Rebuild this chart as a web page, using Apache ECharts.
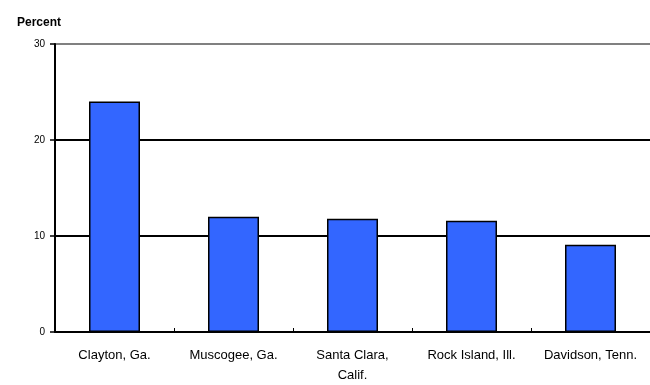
<!DOCTYPE html>
<html>
<head>
<meta charset="utf-8">
<script src="https://cdn.jsdelivr.net/npm/echarts@6/dist/echarts.min.js"></script>
<style>
  html, body { margin: 0; padding: 0; background: #fff; }
  #chart { width: 650px; height: 385px; }
</style>
</head>
<body>
<div id="chart"></div>
<script>
// counties and share (percent)
const categories = ['Clayton, Ga.', 'Muscogee, Ga.', 'Santa Clara,\nCalif.', 'Rock Island, Ill.', 'Davidson, Tenn.'];
const values = [24.0, 12.0, 11.8, 11.6, 9.1];
const yTicks = [0, 10, 20, 30];

const myChart = echarts.init(document.getElementById('chart'));

const option = {
  animation: false,
  backgroundColor: '#ffffff',
  textStyle: { fontFamily: 'Liberation Sans, Arial, sans-serif' },
  title: {
    text: 'Percent',
    left: 12,
    top: 12,
    textStyle: { fontSize: 12, fontWeight: 'bold', color: '#000' },
  },
  grid: {
    left: 55,
    right: -1,
    top: 44,
    bottom: 51,
    containLabel: false,
  },
  xAxis: {
    type: 'category',
    data: categories,
    axisLine: { lineStyle: { color: '#000', width: 2 } },
    axisTick: { show: true, inside: true, length: 4, interval: 0, lineStyle: { color: '#000', width: 1 } },
    axisLabel: { color: '#000', fontSize: 13, margin: 13, lineHeight: 20, interval: 0, hideOverlap: false },
  },
  yAxis: {
    type: 'value',
    min: yTicks[0],
    max: yTicks[yTicks.length - 1],
    interval: 10,
    axisLine: { show: true, lineStyle: { color: '#000', width: 2 } },
    axisTick: { show: true, length: 5, lineStyle: { color: '#000', width: 1.5 } },
    axisLabel: { color: '#000', fontSize: 10, margin: 10 },
    splitLine: {
      show: true,
      lineStyle: { color: ['#000', '#000', '#000', '#808080'], width: 2, type: 'solid' },
    },
  },
  series: [{
    type: 'bar',
    data: values,
    barWidth: 51,
    itemStyle: { color: '#3366ff', borderColor: '#000', borderWidth: 1.5 },
  }],
};

myChart.setOption(option);
</script>
</body>
</html>
